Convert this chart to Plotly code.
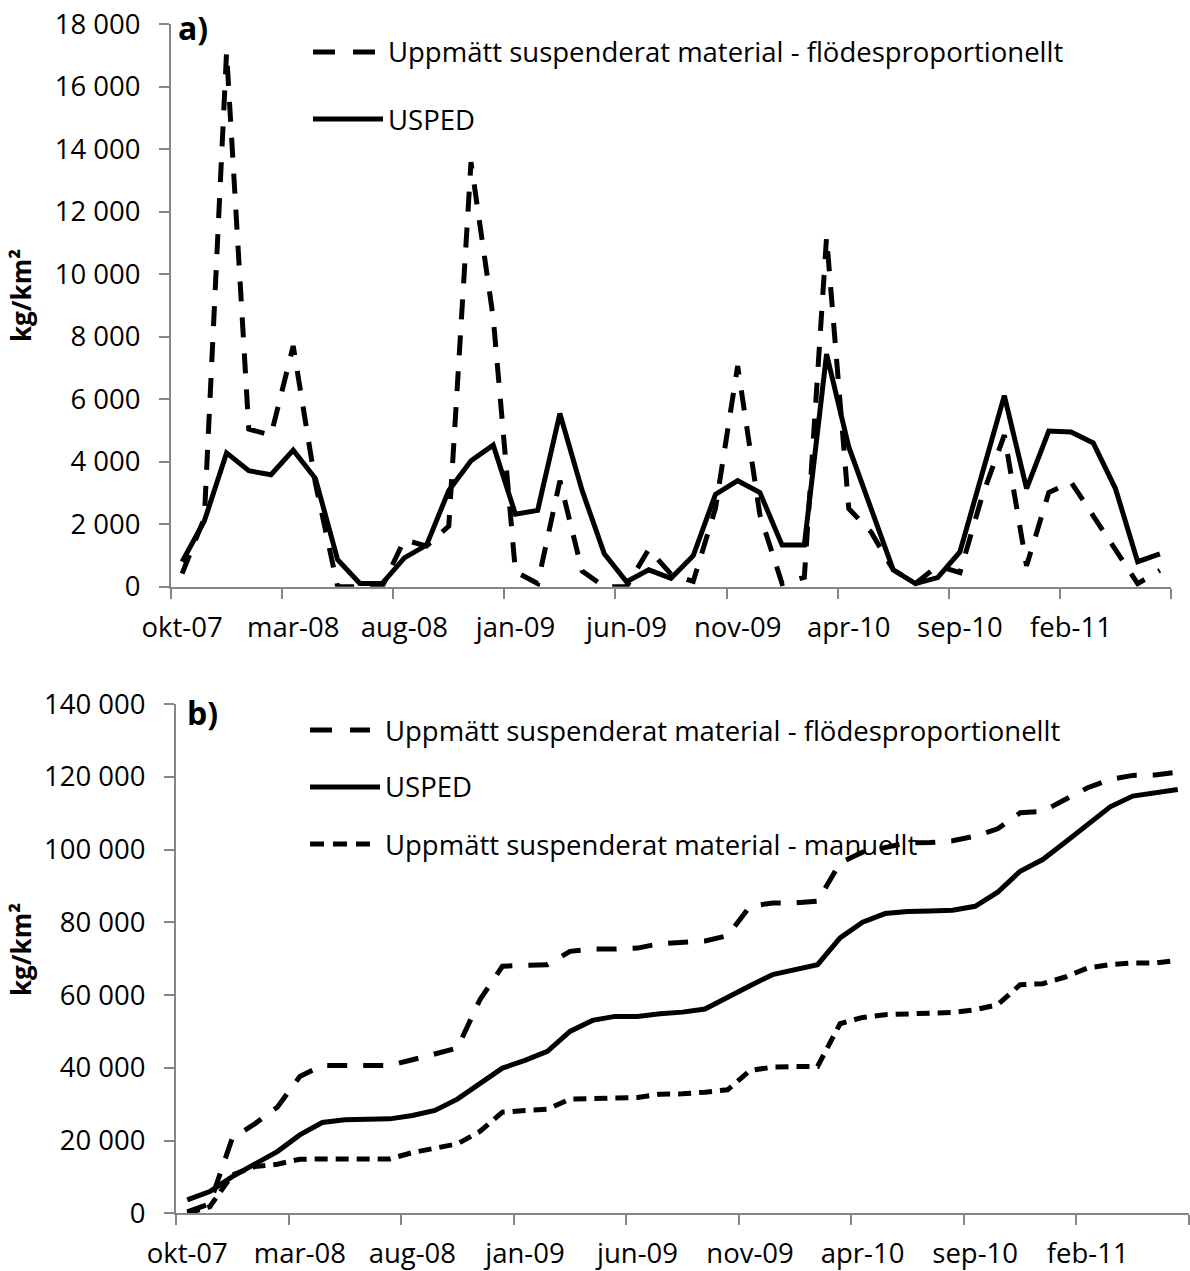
import plotly.graph_objects as go

# ---------------- data ----------------
months = ["okt-07", "nov-07", "dec-07", "jan-08", "feb-08", "mar-08", "apr-08", "maj-08", "jun-08",
          "jul-08", "aug-08", "sep-08", "okt-08", "nov-08", "dec-08", "jan-09", "feb-09", "mar-09",
          "apr-09", "maj-09", "jun-09", "jul-09", "aug-09", "sep-09", "okt-09", "nov-09", "dec-09",
          "jan-10", "feb-10", "mar-10", "apr-10", "maj-10", "jun-10", "jul-10", "aug-10", "sep-10",
          "okt-10", "nov-10", "dec-10", "jan-11", "feb-11", "mar-11", "apr-11", "maj-11", "jun-11"]

# a) monthly values (kg/km2)
flow_monthly = [420, 2200, 17100, 5040, 4850, 7700, 3300, 0, 0, 0, 1500, 1300, 1940, 13580, 8600,
                480, 100, 3390, 500, 0, 0, 1200, 400, 170, 2500, 7060, 2300, 100, 300, 11180,
                2500, 1750, 540, 100, 670, 450, 2890, 4850, 670, 3010, 3350, 2250, 1200, 100, 520]
usped_monthly = [800, 2100, 4280, 3710, 3580, 4370, 3460, 860, 100, 100, 920, 1330, 3080, 4030, 4530,
                 2320, 2440, 5540, 3080, 1050, 160, 540, 270, 990, 2950, 3390, 3010, 1330, 1330, 7440,
                 4470, 2450, 540, 100, 290, 1110, 3600, 6110, 3140, 4980, 4950, 4600, 3140, 800, 1050]

# b) accumulated values (kg/km2)
flow_cum = [400, 2600, 20640, 24590, 29170, 37600, 40640, 40640, 40640, 40640, 42200, 43670, 45410,
            58700, 67900, 68170, 68350, 72000, 72660, 72660, 72900, 74130, 74500, 74860, 76330,
            84400, 85320, 85320, 85780, 96330, 99270, 100460, 101830, 101900, 102390, 103670,
            105690, 110090, 110460, 113760, 116970, 119270, 120370, 120460, 121280]
usped_cum = [3670, 5960, 10100, 13490, 16970, 21560, 24950, 25690, 25870, 25960, 26880, 28260, 31380,
             35500, 39910, 42020, 44500, 50000, 53030, 54130, 54130, 54860, 55300, 56150, 59170,
             62570, 65600, 66970, 68350, 75690, 80000, 82390, 82940, 83120, 83300, 84400, 88260,
             94040, 97250, 102020, 107060, 111740, 114680, 115600, 116510]
manual_cum = [0, 1800, 10550, 12840, 13490, 14860, 14950, 14950, 14950, 14950, 16700, 17890, 19080,
              22480, 27800, 28260, 28620, 31380, 31470, 31470, 31830, 32750, 32840, 33300, 33940,
              39270, 40180, 40370, 40370, 52110, 53850, 54590, 54860, 55050, 55230, 55960, 57340,
              62840, 63120, 64950, 67430, 68350, 68810, 68810, 69540]

name_flow = "Uppmätt suspenderat material - flödesproportionellt"
name_usped = "USPED"
name_manual = "Uppmätt suspenderat material - manuellt"

# ---------------- layout helpers ----------------
W, H = 1190, 1271
def fx(p):
    return p / W
def fy(p):
    return 1 - p / H

FONT = "Open Sans"
FS = 27.5
AX = "#868686"
LW = 5
LONG = "20px,16px"
SHORT = "13px,8px"

x = list(range(len(months)))
tick_idx = x[::5]
tick_txt = [months[i] for i in tick_idx]
bounds = [i - 0.5 for i in range(0, len(months) + 1, 5)]

fig = go.Figure()
fig.add_trace(go.Scatter(x=x, y=flow_monthly, mode="lines", name=name_flow,
                         line=dict(color="black", width=LW, dash=LONG), xaxis="x", yaxis="y"))
fig.add_trace(go.Scatter(x=x, y=usped_monthly, mode="lines", name=name_usped,
                         line=dict(color="black", width=LW), xaxis="x", yaxis="y"))
fig.add_trace(go.Scatter(x=x, y=flow_cum, mode="lines", name=name_flow,
                         line=dict(color="black", width=LW, dash=LONG), xaxis="x2", yaxis="y2"))
fig.add_trace(go.Scatter(x=x, y=usped_cum, mode="lines", name=name_usped,
                         line=dict(color="black", width=LW), xaxis="x2", yaxis="y2"))
fig.add_trace(go.Scatter(x=x, y=manual_cum, mode="lines", name=name_manual,
                         line=dict(color="black", width=LW, dash=SHORT), xaxis="x2", yaxis="y2"))

def xaxis(domain, anchor):
    return dict(domain=domain, anchor=anchor, range=[-0.5, len(months) - 0.5],
                showline=True, linecolor=AX, linewidth=2, mirror=False,
                tickmode="array", tickvals=tick_idx, ticktext=tick_txt, ticks="",
                showgrid=False, zeroline=False, automargin=False,
                tickfont=dict(family=FONT, size=FS, color="black"),
                ticklabelstandoff=15, ticklabeloverflow="allow",
                minor=dict(tickmode="array", tickvals=bounds, ticks="outside", ticklen=10,
                           tickcolor=AX, tickwidth=2, showgrid=False))

def yaxis(domain, anchor, top, step):
    return dict(domain=domain, anchor=anchor, range=[0, top], dtick=step, tick0=0,
                showline=True, linecolor=AX, linewidth=2,
                ticks="outside", ticklen=10, tickcolor=AX, tickwidth=2,
                tickformat=",d", showgrid=False, zeroline=False, automargin=False,
                tickfont=dict(family=FONT, size=FS, color="black"),
                ticklabelstandoff=13, ticklabeloverflow="allow")

fig.update_layout(
    width=W, height=H, margin=dict(l=0, r=0, t=0, b=0),
    paper_bgcolor="white", plot_bgcolor="white", showlegend=False,
    separators=", ",
    font=dict(family=FONT, size=FS, color="black"),
    xaxis=xaxis([fx(171), fx(1171)], "y"),
    yaxis=yaxis([fy(586.7), fy(24)], "x", 18000, 2000),
    xaxis2=xaxis([fx(176), fx(1189)], "y2"),
    yaxis2=yaxis([fy(1213.3), fy(704)], "x2", 140000, 20000),
)

ann = []
def text(px, py, s, bold=False, angle=0, xanchor="left", size=FS):
    ann.append(dict(x=fx(px), y=fy(py), xref="paper", yref="paper", text=("<b>%s</b>" % s) if bold else s,
                    showarrow=False, xanchor=xanchor, yanchor="middle", textangle=angle,
                    font=dict(family=FONT, size=size, color="black")))

text(176, 28, "a)", bold=True, size=32)
text(185, 712, "b)", bold=True, size=32)
text(21, 296, "kg/km²", bold=True, angle=-90, xanchor="center", size=26)
text(21, 950, "kg/km²", bold=True, angle=-90, xanchor="center", size=26)
# legends
text(386, 52, name_flow)
text(386, 119, name_usped)
text(383, 730, name_flow)
text(383, 787, name_usped)
text(383, 844, name_manual)
fig.update_layout(annotations=ann)

shapes = []
def sample(x0, x1, py, dash):
    shapes.append(dict(type="line", xref="paper", yref="paper", x0=fx(x0), x1=fx(x1), y0=fy(py), y1=fy(py),
                       line=dict(color="black", width=LW, dash=dash)))
sample(313, 375, 52, "22px,18px")
sample(313, 383, 119, "solid")
sample(310, 370, 730, "22px,18px")
sample(310, 380, 787, "solid")
sample(310, 370, 844, "14px,9px")
fig.update_layout(shapes=shapes)

# remove the default page margin so the figure fills the window exactly
fig.write_html("out.html", config={"displayModeBar": False},
               post_script="document.body.style.margin='0';")
